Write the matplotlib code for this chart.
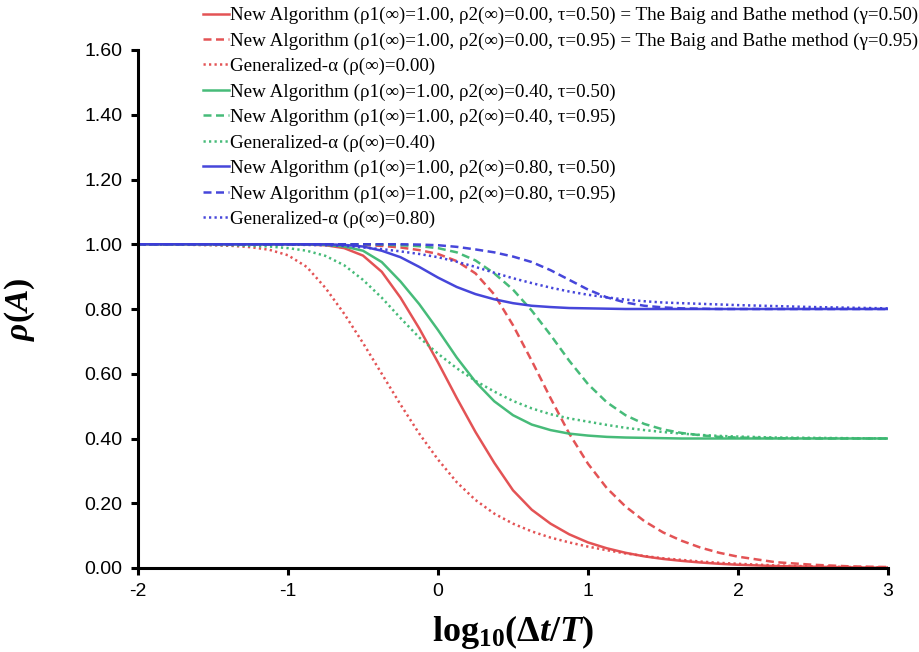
import matplotlib
matplotlib.use("Agg")
import matplotlib.pyplot as plt

# ---- data ----
x_log = [-2, -1.75, -1.5, -1.375, -1.25, -1.125, -1, -0.875, -0.75, -0.625, -0.5,
         -0.375, -0.25, -0.125, 0, 0.125, 0.25, 0.375, 0.5, 0.625, 0.75, 0.875, 1,
         1.125, 1.25, 1.375, 1.5, 1.625, 1.75, 1.875, 2, 2.25, 2.5, 2.75, 3]

new_r0_t50 = [1, 1, 1, 1, 1, 1, 1, 0.999, 0.997, 0.988, 0.965,
              0.915, 0.835, 0.74, 0.635, 0.525, 0.42, 0.325, 0.24, 0.18, 0.137, 0.104, 0.079,
              0.061, 0.047, 0.036, 0.028, 0.022, 0.017, 0.013, 0.01, 0.006, 0.004, 0.002, 0.001]
new_r0_t95 = [1, 1, 1, 1, 1, 1, 1, 1, 1, 0.999, 0.998,
              0.995, 0.99, 0.982, 0.97, 0.948, 0.91, 0.845, 0.75, 0.64, 0.525, 0.415, 0.322,
              0.247, 0.19, 0.145, 0.11, 0.084, 0.063, 0.047, 0.035, 0.018, 0.01, 0.005, 0.003]
ga_r0 = [1, 0.999, 0.997, 0.995, 0.991, 0.983, 0.966, 0.93, 0.865, 0.785, 0.695,
         0.60, 0.505, 0.415, 0.335, 0.265, 0.21, 0.168, 0.137, 0.113, 0.094, 0.079, 0.066,
         0.055, 0.045, 0.037, 0.03, 0.025, 0.02, 0.016, 0.013, 0.008, 0.005, 0.003, 0.002]

new_r4_t50 = [1, 1, 1, 1, 1, 1, 1, 1, 0.998, 0.993, 0.98,
              0.945, 0.885, 0.815, 0.735, 0.65, 0.575, 0.515, 0.472, 0.443, 0.426, 0.415, 0.409,
              0.405, 0.403, 0.402, 0.401, 0.40, 0.40, 0.40, 0.40, 0.40, 0.40, 0.40, 0.40]
new_r4_t95 = [1, 1, 1, 1, 1, 1, 1, 1, 1, 1, 1,
              0.999, 0.997, 0.994, 0.988, 0.975, 0.95, 0.91, 0.86, 0.795, 0.72, 0.64, 0.568,
              0.512, 0.472, 0.445, 0.428, 0.417, 0.41, 0.405, 0.403, 0.401, 0.40, 0.40, 0.40]
ga_r4 = [1, 0.999, 0.998, 0.997, 0.995, 0.993, 0.988, 0.98, 0.964, 0.935, 0.89,
         0.835, 0.772, 0.712, 0.662, 0.617, 0.578, 0.545, 0.516, 0.493, 0.475, 0.462, 0.452,
         0.442, 0.433, 0.426, 0.42, 0.415, 0.411, 0.408, 0.406, 0.403, 0.402, 0.401, 0.40]

new_r8_t50 = [1, 1, 1, 1, 1, 1, 1, 1, 1, 0.998, 0.993,
              0.98, 0.96, 0.93, 0.897, 0.868, 0.846, 0.83, 0.818, 0.81, 0.806, 0.803, 0.802,
              0.801, 0.80, 0.80, 0.80, 0.80, 0.80, 0.80, 0.80, 0.80, 0.80, 0.80, 0.80]
new_r8_t95 = [1, 1, 1, 1, 1, 1, 1, 1, 1, 1, 1,
              1, 1, 0.999, 0.997, 0.992, 0.984, 0.975, 0.962, 0.945, 0.92, 0.89, 0.86,
              0.836, 0.82, 0.81, 0.805, 0.802, 0.801, 0.80, 0.80, 0.80, 0.80, 0.80, 0.80]
ga_r8 = [1, 1, 1, 1, 1, 0.999, 0.999, 0.998, 0.997, 0.995, 0.99,
         0.985, 0.978, 0.97, 0.96, 0.946, 0.93, 0.912, 0.895, 0.88, 0.866, 0.854, 0.844,
         0.836, 0.829, 0.824, 0.82, 0.818, 0.816, 0.814, 0.812, 0.809, 0.806, 0.804, 0.802]

labels = [
    "New Algorithm (\u03c11(\u221e)=1.00, \u03c12(\u221e)=0.00, \u03c4=0.50) = The Baig and Bathe method (\u03b3=0.50)",
    "New Algorithm (\u03c11(\u221e)=1.00, \u03c12(\u221e)=0.00, \u03c4=0.95) = The Baig and Bathe method (\u03b3=0.95)",
    "Generalized-\u03b1 (\u03c1(\u221e)=0.00)",
    "New Algorithm (\u03c11(\u221e)=1.00, \u03c12(\u221e)=0.40, \u03c4=0.50)",
    "New Algorithm (\u03c11(\u221e)=1.00, \u03c12(\u221e)=0.40, \u03c4=0.95)",
    "Generalized-\u03b1 (\u03c1(\u221e)=0.40)",
    "New Algorithm (\u03c11(\u221e)=1.00, \u03c12(\u221e)=0.80, \u03c4=0.50)",
    "New Algorithm (\u03c11(\u221e)=1.00, \u03c12(\u221e)=0.80, \u03c4=0.95)",
    "Generalized-\u03b1 (\u03c1(\u221e)=0.80)",
]
series = [new_r0_t50, new_r0_t95, ga_r0,
          new_r4_t50, new_r4_t95, ga_r4,
          new_r8_t50, new_r8_t95, ga_r8]

x_ticks = [-2, -1, 0, 1, 2, 3]
y_ticks = [0.0, 0.2, 0.4, 0.6, 0.8, 1.0, 1.2, 1.4, 1.6]

# ---- styles ----
RED, GREEN, BLUE = "#E24A4C", "#3DB872", "#3C3CD8"
colors = [RED, RED, RED, GREEN, GREEN, GREEN, BLUE, BLUE, BLUE]
styles = ["-", (0, (3.2, 1.8)), (0, (0.9, 1.3))] * 3

plt.rcParams["mathtext.fontset"] = "custom"
plt.rcParams["mathtext.rm"] = "Liberation Serif:bold"
plt.rcParams["mathtext.it"] = "Liberation Serif:italic:bold"
plt.rcParams["mathtext.bf"] = "Liberation Serif:bold"

fig = plt.figure(figsize=(9.19, 6.52), dpi=100)
ax = fig.add_axes([138 / 919, 1 - 568 / 652, 750 / 919, 518 / 652])

lines = []
for ys, c, ls, lab in zip(series, colors, styles, labels):
    ln, = ax.plot(x_log, ys, color=c, linestyle=ls, linewidth=1.8, label=lab, alpha=0.95)
    lines.append(ln)

ax.set_xlim(-2, 3)
ax.set_ylim(0, 1.6)
ax.set_xticks(x_ticks)
ax.set_xticklabels([str(t) for t in x_ticks], family="Liberation Sans", fontsize=14)
ax.set_yticks(y_ticks)
ax.set_yticklabels([f"{t:.2f}" for t in y_ticks], family="Liberation Sans", fontsize=14)
for s in ("top", "right"):
    ax.spines[s].set_visible(False)
for s in ("left", "bottom"):
    ax.spines[s].set_linewidth(2.2)
ax.tick_params(axis="both", direction="out", length=5, width=2.2, pad=6, colors="black")

ax.set_xlabel(r"$\mathbf{log_{10}}(\Delta t/T)$", fontsize=26, labelpad=9)
ax.set_ylabel(r"$\rho(A)$", fontsize=24, labelpad=34)

leg = fig.legend(handles=lines, loc="upper left", bbox_to_anchor=(201 / 919, 1 - 5 / 652),
                 frameon=False, prop={"family": "Liberation Serif", "size": 13.7},
                 handlelength=1.35, handletextpad=0.08, labelspacing=0.425,
                 borderpad=0.1, borderaxespad=0)

fig.savefig("out.png", dpi=100)
